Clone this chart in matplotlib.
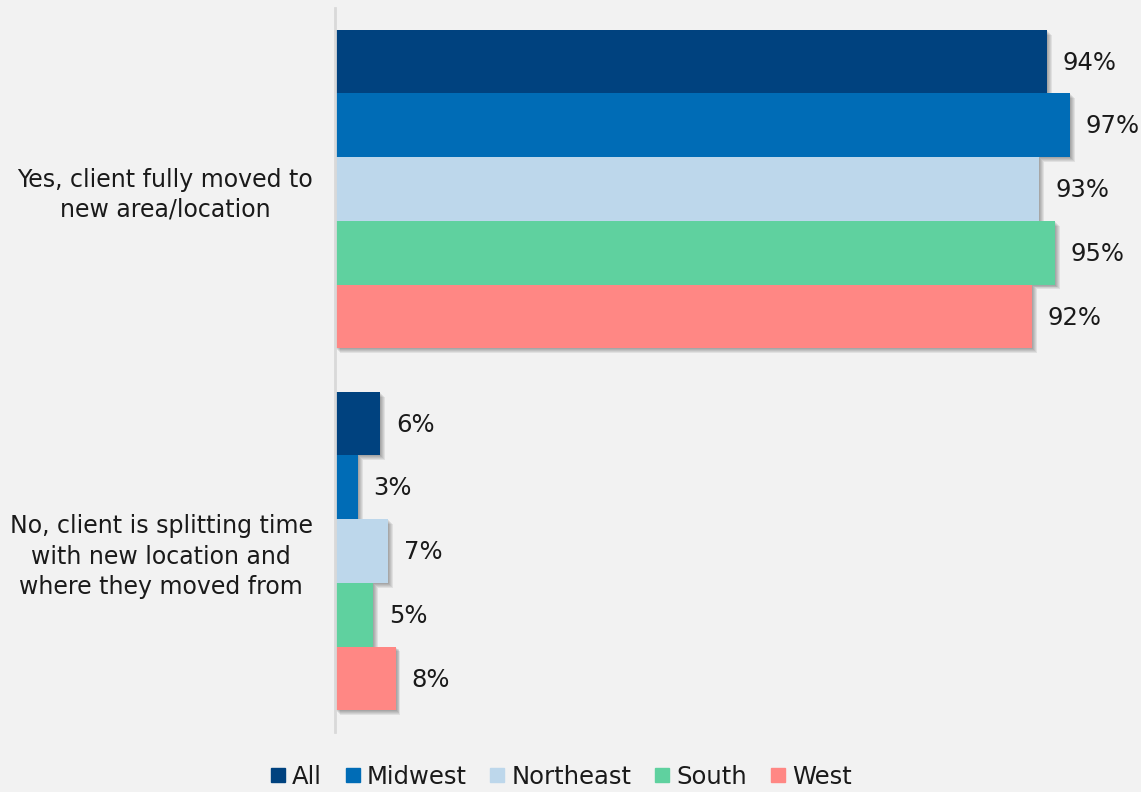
import matplotlib.pyplot as plt
import matplotlib.patheffects as pe
from matplotlib.lines import Line2D
import numpy as np

answers = ["Yes, client fully moved to\nnew area/location",
           "No, client is splitting time\nwith new location and\nwhere they moved from"]
regions = ["All", "Midwest", "Northeast", "South", "West"]
colors = ["#00427F", "#006CB6", "#BDD7EB", "#5FD19F", "#FF8784"]
values = {
    "All": [94, 6],
    "Midwest": [97, 3],
    "Northeast": [93, 7],
    "South": [95, 5],
    "West": [92, 8],
}

bg = "#F2F2F2"
txt = "#1A1A1A"
plt.rcParams['font.family'] = ['DejaVu Sans']

fig = plt.figure(figsize=(11.41, 7.92), dpi=100, facecolor=bg)
ax = fig.add_axes([335 / 1141, 60 / 792, 806 / 1141, 724 / 792])
ax.set_facecolor(bg)

# soft drop shadow: a few offset layers under each bar
shadow = [pe.SimplePatchShadow(offset=(d, -d), shadow_rgbFace="k", alpha=0.07)
          for d in (0.7, 1.4, 2.1, 2.8, 3.5)] + [pe.Normal()]

bar_h = 0.176
y = np.arange(len(answers))
for i, (reg, col) in enumerate(zip(regions, colors)):
    pos = y - 2 * bar_h + i * bar_h
    bars = ax.barh(pos, values[reg], height=bar_h, color=col, label=reg, zorder=2 + i)
    for b, v in zip(bars, values[reg]):
        b.set_path_effects(shadow)
        ax.text(v + 2.1, b.get_y() + bar_h / 2 + 0.003, f"{v}%", va="center", ha="left",
                fontsize=17.5, color=txt)

ax.set_xlim(0, 106.4)
ax.set_ylim(1.5, -0.5)
ax.set_xticks([])
ax.set_yticks(y)
ax.set_yticklabels(answers, fontsize=17, color=txt, multialignment="center",
                   linespacing=1.32)
ax.tick_params(axis="y", length=0, pad=16)
for s in ("top", "right", "bottom"):
    ax.spines[s].set_visible(False)
ax.spines["left"].set_color("#D9D9D9")
ax.spines["left"].set_linewidth(2)
ax.spines["left"].set_zorder(10)

handles = [Line2D([], [], marker="s", linestyle="none", markersize=10,
                  markerfacecolor=c, markeredgecolor=c) for c in colors]
fig.legend(handles, regions, loc="center", bbox_to_anchor=(0.492, 0.019), ncol=5,
           frameon=False, fontsize=17.5, handlelength=0.55, handletextpad=0.3,
           columnspacing=1.0, labelcolor=txt, borderpad=0.1)

fig.savefig("out.png", dpi=100, facecolor=bg)
